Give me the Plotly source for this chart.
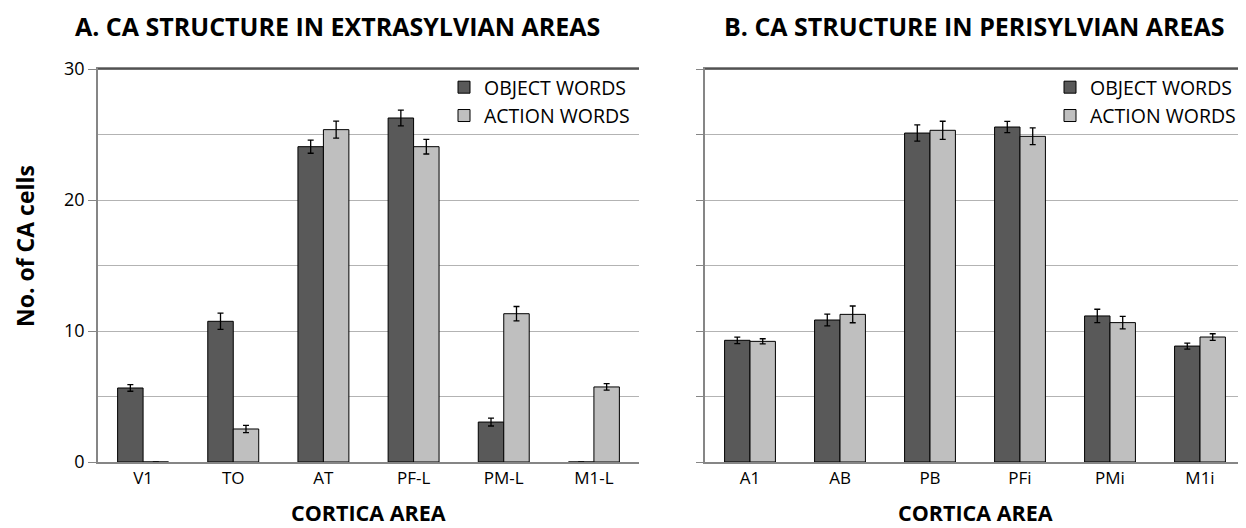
import plotly.graph_objects as go

# ---- data ----
areas_a = ["V1", "TO", "AT", "PF-L", "PM-L", "M1-L"]
object_a = [5.65, 10.74, 24.07, 26.26, 3.05, 0]
object_a_err = [0.25, 0.62, 0.5, 0.6, 0.3, None]
action_a = [0, 2.52, 25.37, 24.07, 11.32, 5.73]
action_a_err = [None, 0.27, 0.65, 0.56, 0.55, 0.25]

areas_b = ["A1", "AB", "PB", "PFi", "PMi", "M1i"]
object_b = [9.29, 10.84, 25.11, 25.57, 11.15, 8.85]
object_b_err = [0.25, 0.45, 0.62, 0.43, 0.51, 0.23]
action_b = [9.21, 11.27, 25.32, 24.86, 10.64, 9.54]
action_b_err = [0.2, 0.64, 0.69, 0.64, 0.48, 0.25]

series_names = ["OBJECT WORDS", "ACTION WORDS"]
titles = ["A. CA STRUCTURE IN EXTRASYLVIAN AREAS", "B. CA STRUCTURE IN PERISYLVIAN AREAS"]
x_title = "CORTICA AREA"
y_title = "No. of CA cells"

FONT = "Open Sans"
DARK = "#595959"
LIGHT = "#bfbfbf"
# figure sits inside the page's 8px body margin
OFF = 8
W, H = 1246 - OFF, 528 - OFF


def px(x):
    return (x - OFF) / W


def py(y):
    return 1 - (y - OFF) / H


fig = go.Figure()


def add_panel(cats, obj, obj_err, act, act_err, xa, ya, legend):
    for name, vals, errs, col in [(series_names[0], obj, obj_err, DARK),
                                   (series_names[1], act, act_err, LIGHT)]:
        fig.add_trace(go.Bar(
            x=cats, y=vals, name=name, xaxis=xa, yaxis=ya, legend=legend,
            marker=dict(color=col, line=dict(color="#000000", width=1)),
            error_y=dict(type="data", array=errs, visible=True,
                         color="#000000", thickness=1.3, width=3),
        ))


add_panel(areas_a, object_a, object_a_err, action_a, action_a_err, "x", "y", "legend")
add_panel(areas_b, object_b, object_b_err, action_b, action_b_err, "x2", "y2", "legend2")

dom_y = [py(462), py(69)]
dom_x1 = [px(98), px(639)]
dom_x2 = [px(705), min(1.0, px(1245))]

axis_line = "#868686"
grid = "#b3b3b3"

xcommon = dict(showline=True, linecolor=axis_line, linewidth=1.5, mirror=True,
               ticks="", showgrid=False,
               tickfont=dict(family=FONT, size=17, color="#000000"))

legend_common = dict(xanchor="right", yanchor="top",
                     font=dict(family=FONT, size=19.5, color="#000000"),
                     bgcolor="rgba(0,0,0,0)", tracegroupgap=0, itemwidth=30)

fig.update_layout(
    width=W, height=H,
    margin=dict(l=0, r=0, t=0, b=0, autoexpand=False),
    paper_bgcolor="white", plot_bgcolor="white",
    barmode="group", bargap=0.435, bargroupgap=0,
    font=dict(family=FONT, color="#000000"),
    xaxis=dict(domain=dom_x1, anchor="y", **xcommon),
    xaxis2=dict(domain=dom_x2, anchor="y2", **xcommon),
    yaxis=dict(domain=dom_y, anchor="x", range=[0, 30], dtick=10,
               showline=True, linecolor=axis_line, linewidth=1.5,
               ticks="outside", ticklen=8, tickcolor=axis_line,
               showgrid=True, gridcolor=grid, gridwidth=1.2,
               minor=dict(dtick=5, showgrid=True, gridcolor=grid, gridwidth=1.2, ticks=""),
               zeroline=False,
               tickfont=dict(family=FONT, size=18, color="#000000")),
    yaxis2=dict(domain=dom_y, anchor="x2", range=[0, 30], dtick=5,
                showline=True, linecolor=axis_line, linewidth=1.5,
                ticks="outside", ticklen=7, tickcolor=axis_line,
                showticklabels=False,
                showgrid=True, gridcolor=grid, gridwidth=1.2, zeroline=False),
    legend=dict(x=px(635), y=py(68), **legend_common),
    legend2=dict(x=px(1241), y=py(68), **legend_common),
    showlegend=True,
)

# darker top borders of the plot areas
for xd, yd in [("x domain", "y domain"), ("x2 domain", "y2 domain")]:
    fig.add_shape(type="line", xref=xd, yref=yd, x0=0, x1=1, y0=1, y1=1,
                  line=dict(color="#404040", width=1.5))

ann = []
for t, cx in zip(titles, [337, 974]):
    ann.append(dict(text="<b>" + t + "</b>", x=px(cx), y=py(26),
                    xref="paper", yref="paper", showarrow=False,
                    font=dict(family=FONT, size=25, color="#000000"),
                    xanchor="center", yanchor="middle"))
for cx in [368, 975]:
    ann.append(dict(text="<b>" + x_title + "</b>", x=px(cx), y=0,
                    xref="paper", yref="paper", showarrow=False,
                    font=dict(family=FONT, size=21.5, color="#000000"),
                    xanchor="center", yanchor="bottom", borderpad=0))
ann.append(dict(text="<b>" + y_title + "</b>", x=0, y=py(246),
                xref="paper", yref="paper", showarrow=False, textangle=-90,
                font=dict(family=FONT, size=23, color="#000000"),
                xanchor="left", yanchor="middle", borderpad=0))
fig.update_layout(annotations=ann)

fig.write_html("out.html")
